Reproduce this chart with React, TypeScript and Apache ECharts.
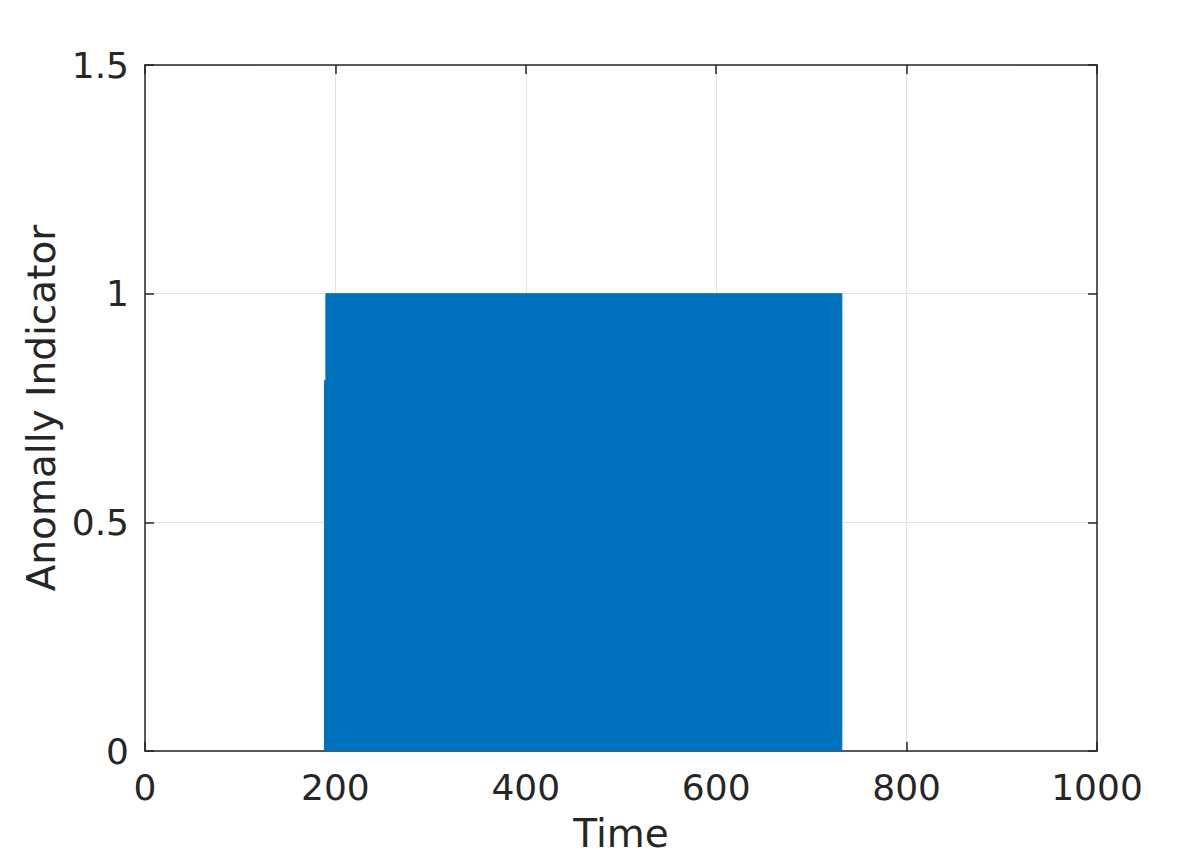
import React, { useEffect, useRef } from "react";
import * as echarts from "echarts";

const times = [188.5, 188.5, 190, 190, 732, 732];
const indicator = [0, 0.81, 0.81, 1, 1, 0];
const xTicks = [0, 200, 400, 600, 800, 1000];
const yTicks = [0, 0.5, 1, 1.5];

const FONT = "DejaVu Sans";
const AXIS_COLOR = "#262626";

export default function App() {
  const ref = useRef<HTMLDivElement>(null);
  useEffect(() => {
    const chart = echarts.init(ref.current!, null, { renderer: "svg" });
    const data = times.map((t, i) => [t, indicator[i]]);
    const common = {
      axisLine: { show: true, onZero: false, lineStyle: { color: AXIS_COLOR, width: 1.5 } },
      axisTick: { show: true, inside: true, length: 9, lineStyle: { color: AXIS_COLOR, width: 1.5 } },
    };
    chart.setOption({
      animation: false,
      backgroundColor: "#ffffff",
      textStyle: { fontFamily: FONT },
      grid: { left: 145, right: 99, top: 65, bottom: 106, containLabel: false },
      xAxis: [
        {
          type: "value",
          min: 0,
          max: 1000,
          interval: 200,
          position: "bottom",
          ...common,
          axisLabel: {
            color: AXIS_COLOR,
            fontSize: 36,
            fontFamily: FONT,
            margin: 18,
            formatter: (v: number) => (xTicks.includes(v) ? String(v) : ""),
          },
          splitLine: { show: true, lineStyle: { color: "#e3e3e3", width: 1 } },
          name: "Time",
          nameLocation: "middle",
          nameGap: 63,
          nameTextStyle: { color: AXIS_COLOR, fontSize: 39, fontFamily: FONT },
        },
        {
          type: "value",
          min: 0,
          max: 1000,
          interval: 200,
          position: "top",
          ...common,
          axisLabel: { show: false },
          splitLine: { show: false },
        },
      ],
      yAxis: [
        {
          type: "value",
          min: 0,
          max: 1.5,
          interval: 0.5,
          position: "left",
          ...common,
          axisLabel: {
            color: AXIS_COLOR,
            fontSize: 36,
            fontFamily: FONT,
            margin: 16,
            formatter: (v: number) => (yTicks.includes(v) ? String(v) : ""),
          },
          splitLine: { show: true, lineStyle: { color: "#e3e3e3", width: 1 } },
          name: "Anomally Indicator",
          nameLocation: "middle",
          nameGap: 82,
          nameTextStyle: { color: AXIS_COLOR, fontSize: 39, fontFamily: FONT },
        },
        {
          type: "value",
          min: 0,
          max: 1.5,
          interval: 0.5,
          position: "right",
          ...common,
          axisLabel: { show: false },
          splitLine: { show: false },
        },
      ],
      series: [
        {
          type: "line",
          data,
          showSymbol: false,
          lineStyle: { color: "#0072BD", width: 1 },
          areaStyle: { color: "#0072BD", opacity: 1, origin: 0 },
          itemStyle: { color: "#0072BD" },
        },
      ],
    });
    return () => chart.dispose();
  }, []);
  return (
    <div
      ref={ref}
      style={{ position: "absolute", left: 0, top: 0, width: 1196, height: 858 }}
    />
  );
}
